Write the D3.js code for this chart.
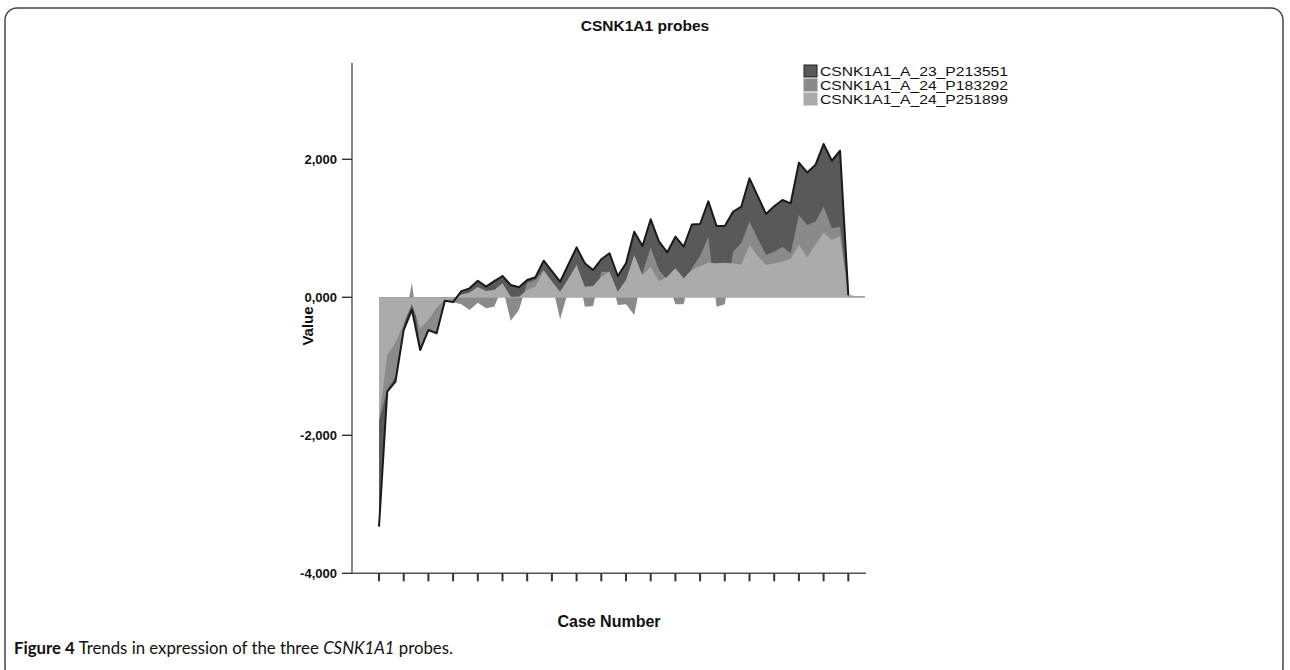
<!DOCTYPE html>
<html>
<head>
<meta charset="utf-8">
<script src="https://cdn.jsdelivr.net/npm/d3@7"></script>
<style>
html,body{margin:0;padding:0;background:#fff;}
svg{display:block;}
</style>
</head>
<body>
<svg id="chart" width="1290" height="670"></svg>
<script>
// ---------------- data ----------------
const cases = d3.range(1, 61);
const seriesNames = ["CSNK1A1_A_23_P213551", "CSNK1A1_A_24_P183292", "CSNK1A1_A_24_P251899"];
const dark = [-3324,-1368,-1223,-474,-180,-764,-474,-522,-50,-70,
  90,130,240,154,235,309,178,145,251,290,
  530,378,226,475,724,493,396,551,638,309,
  493,950,743,1130,810,650,878,733,1055,1062,
  1391,1033,1033,1240,1313,1724,1466,1207,1320,1410,
  1362,1950,1810,1917,2221,1979,2124,30,15,15];
const medium = [-1800,-1340,-1150,-430,210,-720,-470,-500,-60,-70,
  -100,-184,-80,-160,-136,150,-339,-184,212,250,
  400,200,-319,100,480,-136,-126,371,371,-112,
  -100,-256,350,720,400,250,-100,-100,420,600,
  878,-136,-100,661,782,1100,850,613,661,733,
  638,1192,1048,1095,1313,1000,1023,20,15,15];
const light = [-1780,-840,-660,-380,-100,-450,-330,-150,-40,-30,
  40,70,150,90,106,203,9,9,106,154,
  385,230,81,270,468,154,164,298,371,81,
  251,613,323,443,230,298,420,275,400,450,
  500,493,500,490,470,758,600,470,490,520,
  560,758,580,760,936,830,890,15,15,15];
const yTickValues = [2000, 0, -2000, -4000];
const yTickLabels = ["2,000", "0,000", "-2,000", "-4,000"];
const xTickCases = d3.range(1, 59, 3);

// ---------------- layout ----------------
const svg = d3.select("#chart");
const colors = ["#595959", "#8a8a8a", "#ababab"];
const FONT = "Liberation Sans, Arial, sans-serif";

svg.append("rect").attr("x", 5).attr("y", 8).attr("width", 1278).attr("height", 672)
  .attr("rx", 12).attr("fill", "none").attr("stroke", "#444").attr("stroke-width", 1.5);

const x = d3.scaleLinear().domain([1, 58]).range([379, 848.3]);
const y = d3.scaleLinear().domain([-4000, 2000]).range([573.3, 159.3]);
const axisLeftX = x(-2.28), axisRightX = x(60.15), axisTopY = y(3400);

const series = [dark, medium, light];
series.forEach((vals, si) => {
  const area = d3.area()
    .x((d, i) => x(cases[i]))
    .y0(y(0))
    .y1(d => y(d));
  svg.append("path").datum(vals).attr("d", area).attr("fill", colors[si]).attr("stroke", "none");
});
// outline of the first series
const line = d3.line().x((d, i) => x(cases[i])).y(d => y(d));
svg.append("path").datum(dark.slice(0, 58)).attr("d", line)
  .attr("fill", "none").attr("stroke", "#1a1a1a").attr("stroke-width", 2).attr("stroke-linejoin", "round");

// axes
const axisColor = "#555";
svg.append("line").attr("x1", axisLeftX).attr("x2", axisLeftX).attr("y1", axisTopY).attr("y2", y(-4000))
  .attr("stroke", axisColor).attr("stroke-width", 1.4);
svg.append("line").attr("x1", axisLeftX).attr("x2", axisRightX).attr("y1", y(-4000)).attr("y2", y(-4000))
  .attr("stroke", axisColor).attr("stroke-width", 1.4);

yTickValues.forEach((v, i) => {
  svg.append("line").attr("x1", axisLeftX - 10).attr("x2", axisLeftX).attr("y1", y(v)).attr("y2", y(v))
    .attr("stroke", "#333").attr("stroke-width", 1.4);
  svg.append("text").attr("x", axisLeftX - 15).attr("y", y(v)).attr("dy", "0.36em")
    .attr("text-anchor", "end").attr("font-family", FONT)
    .attr("font-weight", "bold").attr("font-size", 13).attr("fill", "#111").text(yTickLabels[i]);
});
xTickCases.forEach(c => {
  svg.append("line").attr("x1", x(c)).attr("x2", x(c)).attr("y1", y(-4000)).attr("y2", y(-4000) + 8)
    .attr("stroke", "#333").attr("stroke-width", 2);
});

// titles
svg.append("text").attr("x", 645).attr("y", 31).attr("text-anchor", "middle")
  .attr("font-family", FONT).attr("font-weight", "bold").attr("font-size", 15.5)
  .attr("fill", "#111").text("CSNK1A1 probes");
svg.append("text").attr("transform", "translate(313,326) rotate(-90)").attr("text-anchor", "middle")
  .attr("font-family", FONT).attr("font-weight", "bold").attr("font-size", 15)
  .attr("fill", "#111").text("Value");
svg.append("text").attr("x", 609).attr("y", 627).attr("text-anchor", "middle")
  .attr("font-family", FONT).attr("font-weight", "bold").attr("font-size", 16)
  .attr("fill", "#111").text("Case Number");

// legend
seriesNames.forEach((name, i) => {
  const ly = 65 + i * 14;
  svg.append("rect").attr("x", 804).attr("y", ly).attr("width", 13).attr("height", 12)
    .attr("fill", colors[i]).attr("stroke", i === 0 ? "#222" : colors[i]).attr("stroke-width", 1);
  svg.append("text").attr("x", 820).attr("y", ly + 10.5)
    .attr("font-family", FONT).attr("font-size", 13)
    .attr("textLength", 188).attr("lengthAdjust", "spacingAndGlyphs")
    .attr("fill", "#111").text(name);
});

// caption
const cap = svg.append("text").attr("x", 14).attr("y", 654)
  .attr("font-family", "Lato, Open Sans, sans-serif").attr("font-size", 16.8).attr("fill", "#111");
cap.append("tspan").attr("font-weight", "bold").text("Figure 4");
cap.append("tspan").text(" Trends in expression of the three ");
cap.append("tspan").attr("font-style", "italic").text("CSNK1A1");
cap.append("tspan").text(" probes.");
</script>
</body>
</html>
